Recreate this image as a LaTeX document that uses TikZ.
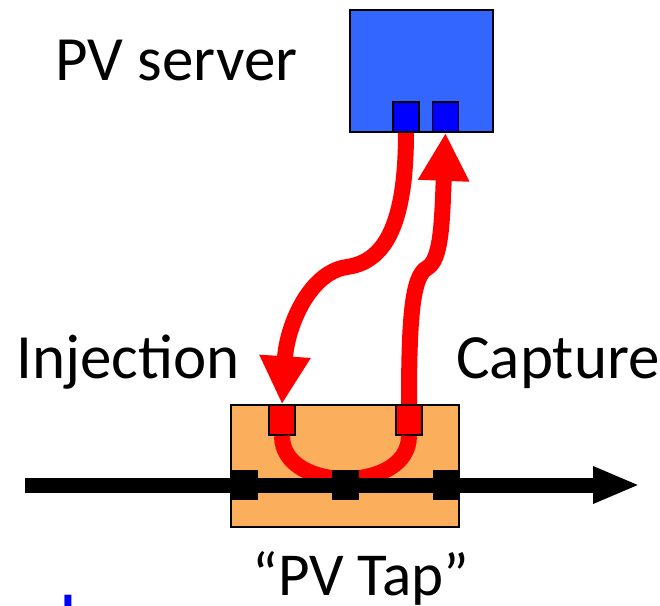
\documentclass[tikz,border=0pt]{standalone}
\usepackage{fontspec}
\setmainfont{Carlito}
\usetikzlibrary{arrows.meta}
\definecolor{pvServerBlue}{HTML}{3366FF}
\definecolor{pvPortBlue}{HTML}{0000FF}
\definecolor{pvTapOrange}{HTML}{FBAE5C}
\definecolor{pvNoteBlue}{HTML}{0000FF}
\tikzset{
  pvbox/.style={draw=black, line width=1pt, inner sep=0pt},
  serverbox/.style={pvbox, fill=pvServerBlue, minimum width=71.5pt, minimum height=61pt},
  tapbox/.style={pvbox, fill=pvTapOrange, minimum width=114pt, minimum height=61pt},
  portbox/.style={draw=black, line width=0.8pt, inner sep=0pt, minimum width=13pt, minimum height=15pt},
  jointbox/.style={fill=black, inner sep=0pt, minimum width=13.5pt, minimum height=15pt},
  signal/.style={red, line width=8pt, -{Triangle[length=24pt, width=24pt]}},
  busline/.style={black, line width=7.5pt, -{Triangle[length=23.5pt, width=17pt]}},
  pvlabel/.style={inner sep=0pt, font=\fontsize{31.5}{36}\selectfont}
}

\begin{document}
\begin{tikzpicture}[x=0.5pt, y=-0.5pt]
    \useasboundingbox (0,0) rectangle (660,606);
    \clip (0,0) rectangle (660,606);
    % server
    \node[serverbox] (server) at (421.5,71) {};
    \node[portbox, fill=pvPortBlue] (injout) at (406,117) {};
    \node[portbox, fill=pvPortBlue] (capin) at (445.5,117) {};
    \node[pvlabel, anchor=base west] (serverlabel) at (55,80) {PV server};
    % tap
    \node[tapbox] (tap) at (345,466) {};
    \node[portbox, fill=red] (injin) at (282,420) {};
    \node[portbox, fill=red] (capout) at (409,420) {};
    \coordinate (loopbottom) at (345.5,479);
    \draw[red, line width=8pt] (injin.south) to[out=-90, in=180] (loopbottom)
        to[out=0, in=-90] (capout.south);
    \coordinate (busin) at (25,485);
    \coordinate (busout) at (640,485);
    \draw[busline] (busin) -- (busout);
    \node[jointbox] (jointin) at (244.5,484.5) {};
    \node[jointbox] (jointmid) at (345.5,484.5) {};
    \node[jointbox] (jointout) at (446,484.5) {};
    % injection and capture
    \draw[signal] (injout.south) .. controls (406,230) and (382,262) .. (347,267)
        .. controls (310,272) and (287,325) .. (injin.north);
    \draw[signal] (capout.north) .. controls (409,320) and (412,276) .. (427,268)
        .. controls (441,260) and (442,225) .. (capin.south);
    \node[pvlabel, anchor=base west] (injlabel) at (16,378) {Injection};
    \node[pvlabel, anchor=base west] (caplabel) at (456,378) {Capture};
    \node[pvlabel, anchor=base, font=\fontsize{30.5}{35}\selectfont] (taplabel) at (361,595) {“PV Tap”};
    \node[pvlabel, anchor=base west, text=pvNoteBlue, font=\fontsize{28}{32}\bfseries] (note) at (3,634) {nal};
\end{tikzpicture}
\end{document}
